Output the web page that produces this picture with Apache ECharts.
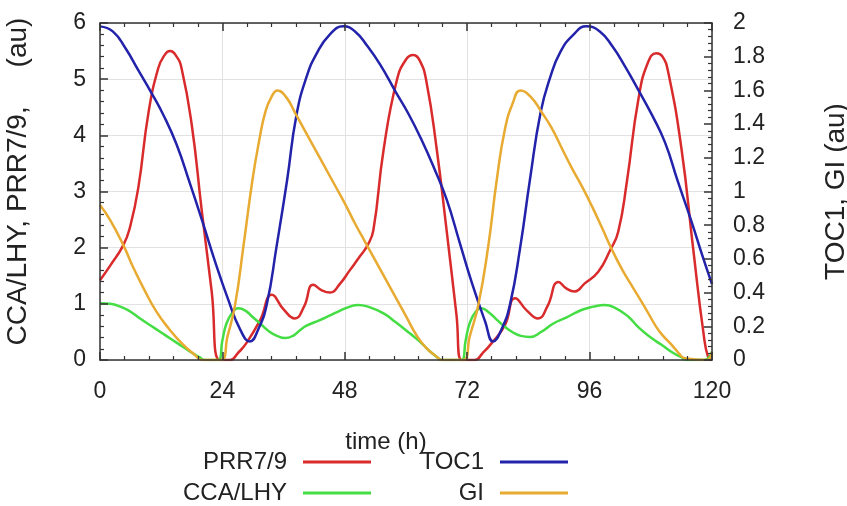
<!DOCTYPE html>
<html>
<head>
<meta charset="utf-8">
<script src="https://cdn.jsdelivr.net/npm/echarts@6/dist/echarts.min.js"></script>
<style>
  html, body { margin: 0; padding: 0; background: #ffffff; }
  #wrap { position: relative; width: 847px; height: 506px; }
  #chart, #frame { position: absolute; left: 0; top: 0; width: 847px; height: 506px; }
  #frame { pointer-events: none; }
</style>
</head>
<body>
<div id="wrap">
  <div id="chart"></div>
  <div id="frame"></div>
</div>
<script>
// Clock-gene model output over 120 h (left axis: CCA/LHY, PRR7/9; right axis: TOC1, GI)
const hourTicks = [0, 24, 48, 72, 96, 120];

const prrHours = [0, 2, 4.6, 5.9, 7.5, 9.5, 11.4, 12.6, 13.7, 14.9, 16, 18, 19.9, 21.9, 23.5, 25.5, 27, 28.7, 31.4, 33.7, 36, 38.2, 40, 41.8, 43.5, 45.1, 47, 49, 51, 52.5, 53.6, 55.6, 58.2, 60, 61.4, 62.7, 64, 66, 68, 69.9, 70.9, 73.5, 75, 76.8, 79.4, 81.4, 83.7, 85.9, 87.7, 89.9, 91.5, 93.1, 95, 97.7, 100, 101.6, 103.3, 105.6, 107.5, 109.1, 110.3, 111.4, 114, 116.3, 118.3, 119.3, 120];
const prrLevels = [1.42, 1.68, 2.05, 2.37, 3.06, 4.4, 5.19, 5.42, 5.5, 5.42, 5.19, 4.18, 2.7, 1.22, 0, 0, 0.12, 0.3, 0.71, 1.16, 0.9, 0.74, 0.95, 1.34, 1.24, 1.2, 1.35, 1.6, 1.85, 2.05, 2.31, 3.74, 4.98, 5.35, 5.43, 5.33, 4.96, 3.77, 2.28, 0.8, 0, 0, 0.12, 0.3, 0.62, 1.1, 0.88, 0.74, 0.95, 1.39, 1.27, 1.22, 1.36, 1.57, 1.95, 2.28, 3.17, 4.66, 5.31, 5.46, 5.4, 5.13, 3.77, 1.99, 0.5, 0.03, 0];

const ccaHours = [0, 2, 4, 6, 8, 10, 12, 14, 16, 18, 19.5, 20.5, 23.2, 24, 24.8, 26, 27.1, 28.5, 30, 31.4, 33, 34.7, 36.3, 38, 39.2, 40.5, 43.1, 45, 47.1, 49, 50.6, 52.5, 55.6, 58, 60.8, 62.7, 64.5, 66, 67, 70.9, 71.7, 72.5, 73.6, 74.8, 76.2, 78, 79.4, 81, 82.5, 84.3, 86.5, 88.9, 91.5, 94.4, 96.7, 99, 101, 103.5, 105.6, 108, 110.1, 112.5, 114, 115, 118.5, 120];
const ccaLevels = [1.01, 1.0, 0.95, 0.86, 0.73, 0.61, 0.49, 0.37, 0.25, 0.13, 0.05, 0, 0, 0.35, 0.65, 0.85, 0.92, 0.88, 0.76, 0.65, 0.52, 0.43, 0.39, 0.44, 0.53, 0.61, 0.71, 0.79, 0.88, 0.95, 0.98, 0.95, 0.83, 0.67, 0.47, 0.33, 0.17, 0.06, 0, 0, 0.35, 0.66, 0.85, 0.92, 0.85, 0.7, 0.59, 0.49, 0.43, 0.41, 0.5, 0.65, 0.76, 0.89, 0.95, 0.98, 0.93, 0.78, 0.58, 0.4, 0.27, 0.12, 0.05, 0, 0, 0.15];

const toc1Hours = [0, 2.5, 5, 7.5, 10, 12.5, 15, 17.5, 20, 22.5, 25, 27.5, 29.4, 31, 32.7, 34.6, 36.7, 38.5, 40.5, 42.5, 45, 47.7, 50, 52.5, 55, 58, 60.5, 63, 65.5, 68, 70.5, 73, 75.5, 77.1, 78.7, 80.4, 82.4, 84.3, 86.4, 88.3, 90.3, 92.8, 95.4, 98, 100.5, 103, 105.6, 108.3, 110.8, 113.3, 116, 118, 120];
const toc1Levels = [1.98, 1.95, 1.85, 1.72, 1.59, 1.45, 1.28, 1.06, 0.83, 0.59, 0.37, 0.18, 0.11, 0.18, 0.33, 0.67, 1.07, 1.45, 1.68, 1.82, 1.93, 1.98, 1.95, 1.86, 1.75, 1.59, 1.46, 1.31, 1.14, 0.95, 0.7, 0.45, 0.23, 0.11, 0.18, 0.33, 0.67, 1.07, 1.47, 1.68, 1.83, 1.93, 1.98, 1.95, 1.86, 1.74, 1.6, 1.45, 1.29, 1.06, 0.82, 0.63, 0.45];

const giHours = [0, 2, 4.6, 6.5, 8.8, 11, 13.4, 16, 18.6, 20, 23.7, 25, 26.5, 28.1, 29.9, 31.2, 32.4, 33.6, 34.8, 36.5, 38.2, 40, 42, 44, 46, 48, 50, 52, 54, 56, 58, 60, 62, 64, 66, 67, 71.2, 72.5, 74.2, 76.1, 77.8, 79.4, 81, 82.4, 84.5, 86.6, 88.5, 90.5, 92.5, 94.5, 96.5, 98.5, 100.3, 102.5, 104.5, 106.9, 109, 110.5, 112.1, 113.5, 114.7, 119, 120];
const giLevels = [0.92, 0.83, 0.68, 0.55, 0.41, 0.29, 0.19, 0.1, 0.03, 0, 0, 0.14, 0.33, 0.67, 1.07, 1.3, 1.47, 1.56, 1.6, 1.56, 1.47, 1.37, 1.26, 1.15, 1.04, 0.93, 0.81, 0.7, 0.59, 0.48, 0.37, 0.26, 0.15, 0.07, 0.02, 0, 0, 0.14, 0.33, 0.67, 1.07, 1.37, 1.53, 1.6, 1.56, 1.47, 1.38, 1.26, 1.14, 1.03, 0.91, 0.78, 0.66, 0.53, 0.43, 0.31, 0.2, 0.14, 0.09, 0.04, 0.01, 0, 0.05];

const seriesNames = ['PRR7/9', 'CCA/LHY', 'TOC1', 'GI'];
const seriesColors = ['#d92b2b', '#44dd44', '#2222aa', '#e8aa30'];

const pairs = (xs, ys) => xs.map((x, i) => [x, ys[i]]);

const FONT = '"Liberation Sans", Arial, sans-serif';
const AXIS_COLOR = '#333';
const GRID_COLOR = '#e2e2e2';
const GRID_BOX = { left: 100, right: 135, top: 23, bottom: 146, outerBoundsMode: 'none' };

function legendFor(name, right, top) {
  return {
    data: [name],
    right: right,
    top: top,
    orient: 'horizontal',
    align: 'right',
    padding: 0,
    icon: 'rect',
    itemWidth: 68,
    itemHeight: 3,
    selectedMode: false,
    textStyle: { fontFamily: FONT, fontSize: 24, color: '#222', padding: [0, 11, 0, 0] }
  };
}

// ---- main layer: gridlines, labels, names, legend and the four curves ----
const chart = echarts.init(document.getElementById('chart'));

const hidden = () => ({ axisLine: { show: false }, axisTick: { show: false }, minorTick: { show: false } });

chart.setOption({
  animation: false,
  backgroundColor: '#ffffff',
  grid: Object.assign({}, GRID_BOX),
  legend: [
    legendFor(seriesNames[0], 476, 450),
    legendFor(seriesNames[1], 476, 481),
    legendFor(seriesNames[2], 279, 450),
    legendFor(seriesNames[3], 279, 481)
  ],
  xAxis: Object.assign({
    type: 'value',
    position: 'bottom',
    min: hourTicks[0],
    max: hourTicks[hourTicks.length - 1],
    interval: 24,
    name: 'time (h)',
    nameLocation: 'middle',
    nameGap: 70,
    nameTextStyle: { fontFamily: FONT, fontSize: 24, color: '#222', padding: [0, 40, 0, 0] },
    axisLabel: { fontFamily: FONT, fontSize: 23, color: '#222', margin: 20 },
    splitLine: { show: true, lineStyle: { color: GRID_COLOR, width: 1 } }
  }, hidden()),
  yAxis: [
    Object.assign({
      type: 'value',
      position: 'left',
      min: 0,
      max: 6,
      interval: 1,
      name: 'CCA/LHY, PRR7/9,     (au)',
      nameLocation: 'middle',
      nameRotate: 90,
      nameGap: 68,
      nameTextStyle: { fontFamily: FONT, fontSize: 28, color: '#222', padding: [0, 0, 0, 20] },
      axisLabel: { fontFamily: FONT, fontSize: 23, color: '#222', margin: 14 },
      splitLine: { show: true, lineStyle: { color: GRID_COLOR, width: 1 } }
    }, hidden()),
    Object.assign({
      type: 'value',
      position: 'right',
      min: 0,
      max: 2,
      interval: 0.2,
      name: 'TOC1, GI (au)',
      nameLocation: 'middle',
      nameRotate: 90,
      nameGap: 110,
      nameTextStyle: { fontFamily: FONT, fontSize: 28, color: '#222' },
      axisLabel: { fontFamily: FONT, fontSize: 23, color: '#222', margin: 21 },
      splitLine: { show: false }
    }, hidden())
  ],
  series: [
    { name: seriesNames[0], data: pairs(prrHours, prrLevels), yAxisIndex: 0 },
    { name: seriesNames[1], data: pairs(ccaHours, ccaLevels), yAxisIndex: 0 },
    { name: seriesNames[2], data: pairs(toc1Hours, toc1Levels), yAxisIndex: 1 },
    { name: seriesNames[3], data: pairs(giHours, giLevels), yAxisIndex: 1 }
  ].map((s, i) => Object.assign({
    type: 'line',
    smooth: 0.5,
    showSymbol: false,
    symbol: 'none',
    clip: true,
    color: seriesColors[i],
    lineStyle: { color: seriesColors[i], width: 2.5 }
  }, s))
});

// ---- frame layer: plot box with inward major and minor ticks on all four sides ----
const frame = echarts.init(document.getElementById('frame'));

function frameAxis(extra) {
  return Object.assign({
    type: 'value',
    axisLabel: { show: false },
    splitLine: { show: false },
    axisLine: { show: true, onZero: false, lineStyle: { color: AXIS_COLOR, width: 1.5 } },
    axisTick: { show: true, inside: true, length: 8, lineStyle: { color: AXIS_COLOR, width: 1.5 } },
    minorTick: { show: true, splitNumber: 5, length: 4, lineStyle: { color: AXIS_COLOR, width: 1.2 } }
  }, extra);
}

frame.setOption({
  animation: false,
  backgroundColor: 'transparent',
  grid: Object.assign({}, GRID_BOX),
  xAxis: [
    frameAxis({ position: 'bottom', min: hourTicks[0], max: hourTicks[hourTicks.length - 1], interval: 24 }),
    frameAxis({ position: 'top', min: hourTicks[0], max: hourTicks[hourTicks.length - 1], interval: 24 })
  ],
  yAxis: [
    frameAxis({ position: 'left', min: 0, max: 6, interval: 1 }),
    frameAxis({ position: 'right', min: 0, max: 2, interval: 0.2 })
  ],
  series: [{ type: 'line', data: [], silent: true }]
});
</script>
</body>
</html>
